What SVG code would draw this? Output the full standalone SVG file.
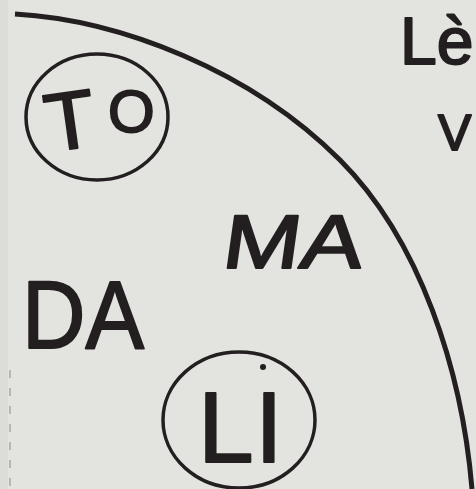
<svg xmlns="http://www.w3.org/2000/svg" width="476" height="489" viewBox="0 0 476 489">
<style>
.ink{fill:#231e1f;stroke:#231e1f;stroke-width:2;font-family:"Liberation Sans",Arial,sans-serif;stroke-linejoin:round}
.ring{fill:none;stroke:#231e1f;stroke-width:3.5}
</style>
<rect width="476" height="489" fill="#e3e3e0"/>
<rect x="0" y="0" width="8" height="489" fill="#dcdcd9"/>
<line x1="10" y1="370" x2="10" y2="489" stroke="#8a8a88" stroke-width="1" stroke-dasharray="8 10"/>
<g id="connectors">
<path class="ring" style="stroke-width:5" d="M15,14 C120,20 250,70 340,160 C420,240 462,370 472,489"/>
</g>
<g id="TO">
<ellipse class="ring" cx="97" cy="117" rx="71" ry="63"/>
<text class="ink" x="44" y="148" font-size="82" transform="rotate(-8 75 115)">T</text>
<text class="ink" x="108" y="132" font-size="60">O</text>
</g>
<g id="MA">
<text class="ink" x="222" y="268" font-size="76" textLength="140" lengthAdjust="spacingAndGlyphs" stroke-width="1.5" transform="skewX(-8) translate(36 0)">MA</text>
</g>
<g id="DA">
<text class="ink" x="22" y="348" font-size="96" textLength="122" lengthAdjust="spacingAndGlyphs" stroke-width="1.5">DA</text>
</g>
<g id="LI">
<ellipse class="ring" cx="239" cy="420" rx="76" ry="68"/>
<text class="ink" x="198" y="462" font-size="100" stroke-width="1">L</text>
<text class="ink" x="255" y="462" font-size="100" stroke-width="1">I</text>
<circle cx="263" cy="367" r="3" fill="#231e1f"/>
</g>
<g id="Le">
<text class="ink" x="400" y="64" font-size="66" stroke-width="1.5">Lè</text>
<text class="ink" x="438" y="150" font-size="50" stroke-width="1">V</text>
</g>
</svg>
